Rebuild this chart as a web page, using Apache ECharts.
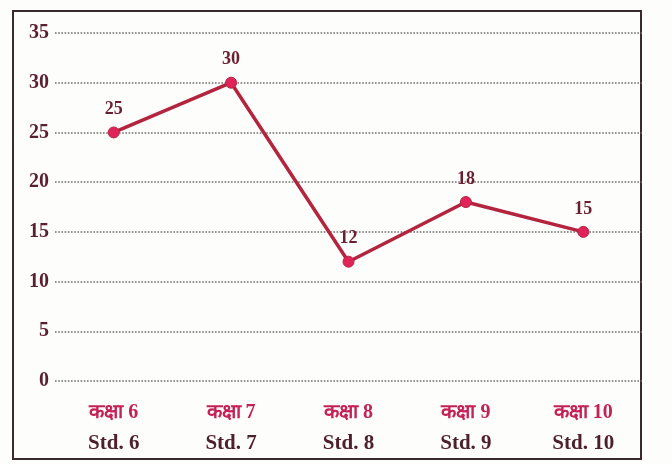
<!DOCTYPE html>
<html>
<head>
<meta charset="utf-8">
<script src="https://cdn.jsdelivr.net/npm/echarts@6/dist/echarts.min.js"></script>
<style>
  html, body { margin: 0; padding: 0; background: #fdfdfb; }
  #frame { position: absolute; left: 12px; top: 10px; width: 626px; height: 446px; border: 2px solid #3a2a2e; }
  #main { position: absolute; left: 0; top: 0; width: 672px; height: 464px; }
</style>
</head>
<body>
<div id="frame"></div>
<div id="main"></div>
<script>
  const hindiLabels = ['कक्षा 6', 'कक्षा 7', 'कक्षा 8', 'कक्षा 9', 'कक्षा 10'];
  const stdLabels = ['Std. 6', 'Std. 7', 'Std. 8', 'Std. 9', 'Std. 10'];
  const values = [25, 30, 12, 18, 15];

  const serif = '"Liberation Serif", "DejaVu Serif", serif';
  const myChart = echarts.init(document.getElementById('main'));
  const option = {
    animation: false,
    grid: {
      left: 55,
      right: 30,
      top: 33,
      bottom: 83
    },
    xAxis: {
      type: 'category',
      data: stdLabels,
      boundaryGap: true,
      axisLine: { show: false },
      axisTick: { show: false },
      axisLabel: {
        margin: 16,
        formatter: function (v, i) {
          return '{hi|' + hindiLabels[i] + '}\n{en|' + v + '}';
        },
        rich: {
          hi: {
            fontFamily: serif,
            fontWeight: 'bold',
            fontSize: 20,
            color: '#c42257',
            lineHeight: 31
          },
          en: {
            fontFamily: serif,
            fontWeight: 'bold',
            fontSize: 21,
            color: '#4e1f2c',
            lineHeight: 31
          }
        }
      }
    },
    yAxis: {
      type: 'value',
      min: 0,
      max: 35,
      interval: 5,
      axisLine: { show: false },
      axisTick: { show: false },
      axisLabel: {
        margin: 6,
        fontFamily: serif,
        fontWeight: 'bold',
        fontSize: 20,
        color: '#5a1f30'
      },
      splitLine: {
        lineStyle: {
          color: '#6e6e6e',
          type: 'dotted',
          width: 1.6
        }
      }
    },
    series: [
      {
        type: 'line',
        data: values,
        symbol: 'circle',
        symbolSize: 11,
        lineStyle: {
          color: '#b3243f',
          width: 3.5
        },
        itemStyle: {
          color: '#e0245a',
          borderColor: '#b3243f',
          borderWidth: 1
        },
        label: {
          show: true,
          position: 'top',
          distance: 8,
          fontFamily: serif,
          fontWeight: 'bold',
          fontSize: 18,
          color: '#6a1f30'
        }
      }
    ]
  };
  myChart.setOption(option);
</script>
</body>
</html>
